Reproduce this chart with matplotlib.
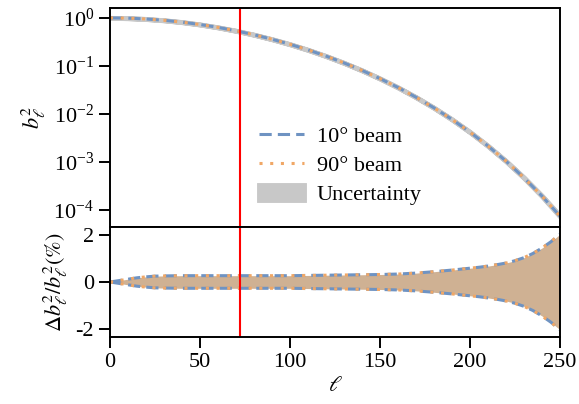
import numpy as np
import matplotlib
matplotlib.use("Agg")
import matplotlib.pyplot as plt

plt.rcParams["font.family"] = ["Liberation Serif", "DejaVu Serif"]
plt.rcParams["mathtext.fontset"] = "stix"
plt.rcParams["axes.unicode_minus"] = False

# Multipoles and squared beam window function
ell = [0, 10, 20, 30, 40, 50, 60, 70, 80, 90, 100, 110, 120, 130, 140,
       150, 160, 170, 180, 190, 200, 210, 220, 230, 240, 250]
b2 = [1.0, 0.9864, 0.9491, 0.8908, 0.8157, 0.7282, 0.6342, 0.5385, 0.4457,
      0.3593, 0.2822, 0.2157, 0.1602, 0.1155, 0.0807, 0.0545, 0.0356,
      0.02229, 0.01340, 0.007686, 0.004188, 0.002157, 0.001042, 0.0004695,
      0.0001955, 0.0000746]

# Relative uncertainty of b_ell^2 in percent
ell_u = [0, 5, 10, 15, 20, 25, 30, 40, 50, 60, 70, 80, 90, 100, 110, 120,
         130, 140, 150, 160, 170, 180, 190, 200, 205, 210, 215, 220, 225,
         230, 235, 240, 245, 250]
unc = [0.0, 0.06, 0.12, 0.18, 0.22, 0.25, 0.26, 0.27, 0.27, 0.27, 0.27,
       0.27, 0.27, 0.27, 0.28, 0.29, 0.30, 0.31, 0.32, 0.34, 0.38, 0.44,
       0.51, 0.59, 0.63, 0.68, 0.74, 0.81, 0.91, 1.04, 1.22, 1.45, 1.72,
       2.04]

ell_cut = 72

ell_a = np.array(ell)
b2_a = np.array(b2)
ellu_a = np.array(ell_u)
unc_a = np.array(unc)

blue = "#6f93c2"
orange = "#f0a766"
grey = "#c8c8c8"
tan = "#cfb193"

fig = plt.figure(figsize=(5.79, 4.04), dpi=100)
ax1 = fig.add_axes([0.190, 0.438, 0.777, 0.542])
ax2 = fig.add_axes([0.190, 0.166, 0.777, 0.272], sharex=ax1)

# Top panel: beam window functions with uncertainty band
u_interp = np.interp(ell_a, ellu_a, unc_a) / 100.0
ax1.fill_between(ell_a, b2_a * (1 - u_interp), b2_a * (1 + u_interp),
                 color=grey, lw=3.5, label="Uncertainty")
ax1.plot(ell_a, b2_a, color=blue, ls=(0, (4, 2)), lw=2.2, label="10° beam")
ax1.plot(ell_a, b2_a, color=orange, ls=(0, (1, 2.5)), lw=2.2, label="90° beam")
ax1.set_yscale("log")
ax1.set_ylim(4.4e-5, 1.6)
ax1.set_yticks([1, 1e-1, 1e-2, 1e-3, 1e-4])
ax1.yaxis.set_minor_locator(matplotlib.ticker.NullLocator())
ax1.set_ylabel(r"$b_\ell^2$", fontsize=16)
ax1.axvline(ell_cut, color="red", lw=1.5)
ax1.tick_params(axis="x", which="both", bottom=False, labelbottom=False)

h, l = ax1.get_legend_handles_labels()
order = [1, 2, 0]
ax1.legend([h[i] for i in order], [l[i] for i in order], frameon=False,
           loc="upper left", bbox_to_anchor=(0.287, 0.553), fontsize=16,
           handlelength=2.0, labelspacing=0.4, handletextpad=0.6)

# Bottom panel: relative uncertainty
ax2.fill_between(ellu_a, -unc_a, unc_a, color=tan, lw=0)
for sgn in (1, -1):
    ax2.plot(ellu_a, sgn * unc_a, color=blue, ls=(0, (4, 2)), lw=2.2)
    ax2.plot(ellu_a, sgn * unc_a, color=orange, ls=(0, (1, 2.5)), lw=2.2)
ax2.axvline(ell_cut, color="red", lw=1.5)
ax2.set_ylim(-2.35, 2.35)
ax2.set_yticks([2, 0, -2])
ax2.set_yticklabels(["2", "0", "-2"])
ax2.set_xlim(0, 250)
ax2.set_xticks([0, 50, 100, 150, 200, 250])
ax2.set_xlabel(r"$\ell$", fontsize=16)
ax2.set_ylabel(r"$\Delta b_\ell^2/b_\ell^2 (\%)$", fontsize=16)

for ax in (ax1, ax2):
    for s in ax.spines.values():
        s.set_linewidth(1.4)
    ax.tick_params(which="major", direction="out", length=8, width=1.4,
                   labelsize=16, top=False, right=False)

fig.align_ylabels([ax1, ax2])
fig.savefig("out.png", dpi=100)
